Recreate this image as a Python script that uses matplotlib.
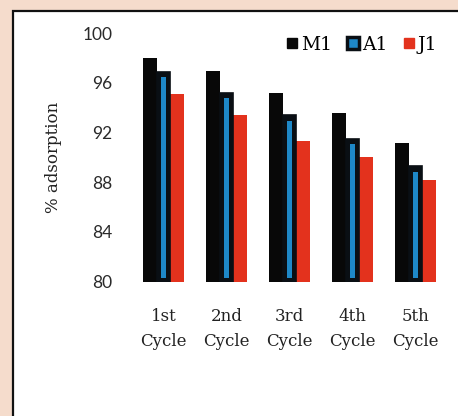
import matplotlib.pyplot as plt
from matplotlib.patches import Rectangle
from matplotlib.lines import Line2D
import numpy as np

cycles = ["1st\nCycle", "2nd\nCycle", "3rd\nCycle", "4th\nCycle", "5th\nCycle"]
m1 = [98.0, 97.0, 95.2, 93.6, 91.2]
a1 = [96.9, 95.2, 93.4, 91.5, 89.3]
j1 = [95.1, 93.4, 91.3, 90.0, 88.2]
yticks = [80, 84, 88, 92, 96, 100]

W, H = 458, 416
fig = plt.figure(figsize=(W / 100, H / 100), dpi=100)
fig.patch.set_facecolor("#f5dccc")

# white panel with black border (runs off right/bottom edge)
panel = Rectangle((13 / W, 0 - 0.05), 1.1, 1 - 11 / H + 0.05, transform=fig.transFigure,
                  facecolor="white", edgecolor="#111111", linewidth=1.6, zorder=-5)
fig.add_artist(panel)

ax = fig.add_axes([132 / W, 1 - 281.5 / H, 315 / W, (281.5 - 33.3) / H])
ax.set_facecolor("none")

x = np.arange(len(cycles))
w = 0.216
blue = "#1e88c8"
red = "#e3321d"

ax.bar(x - w, np.array(m1) - 80, w, bottom=80, color="#080808", zorder=2)
ax.bar(x + w, np.array(j1) - 80, w, bottom=80, color=red, zorder=2)
ax.bar(x, np.array(a1) - 80, w, bottom=80, color="#0a0f14", edgecolor="#0a0f14",
       linewidth=1.2, zorder=3)
ax.bar(x, np.array(a1) - 80 - 0.75, 0.08, bottom=80.3, color=blue, zorder=4)

ax.set_xlim(-0.5, 4.5)
ax.set_ylim(80, 100)
ax.set_yticks(yticks)
ax.set_yticklabels([str(v) for v in yticks], family="Lato", fontsize=12.5, color="#2a2a2a")
ax.set_xticks(x)
ax.set_xticklabels(cycles, family="DejaVu Serif", fontsize=12, color="#222222",
                   linespacing=1.6)
ax.tick_params(axis="y", length=0, pad=14)
ax.tick_params(axis="x", length=0, pad=19)
for s in ax.spines.values():
    s.set_visible(False)

ax.set_ylabel("% adsorption", family="DejaVu Serif", fontsize=12, color="#222222")
ax.yaxis.set_label_coords(-0.222, 0.5)

handles = [
    Line2D([], [], ls="none", marker="s", markersize=7, color="#080808"),
    Line2D([], [], ls="none", marker="s", markersize=8, markerfacecolor=blue,
           markeredgecolor="#0a0f14", markeredgewidth=2.5),
    Line2D([], [], ls="none", marker="s", markersize=7, color=red),
]
ax.legend(handles, ["M1", "A1", "J1"], ncol=3, frameon=False, loc="center",
          bbox_to_anchor=((361 - 132) / 315, (281.5 - 45) / (281.5 - 33.3)),
          prop={"family": "DejaVu Serif", "size": 13.5}, handlelength=0.8,
          handletextpad=0.1, columnspacing=0.7, borderaxespad=0)

fig.savefig("out.png", dpi=100, facecolor=fig.get_facecolor())
